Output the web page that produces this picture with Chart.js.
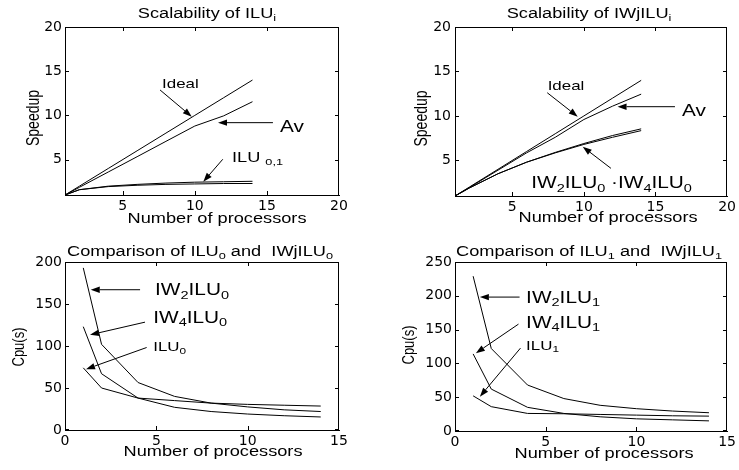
<!DOCTYPE html>
<html><head><meta charset="utf-8">
<script src="https://cdn.jsdelivr.net/npm/chart.js@4/dist/chart.umd.min.js"></script>
<style>
html,body{margin:0;padding:0;background:#fff;}
#wrap{position:relative;width:739px;height:470px;overflow:hidden;background:#fff;}
.cell{position:absolute;}
canvas{display:block;}
.frame{position:absolute;box-sizing:border-box;border-top:1px solid #000;border-right:1px solid #000;pointer-events:none;}
.tick{position:absolute;background:#000;pointer-events:none;}
</style></head><body>
<div id="wrap">
 <div class="cell" id="w1" style="left:0;top:0"><canvas id="c1"></canvas></div>
 <div class="cell" id="w2" style="left:370px;top:0"><canvas id="c2"></canvas></div>
 <div class="cell" id="w3" style="left:0;top:235px"><canvas id="c3"></canvas></div>
 <div class="cell" id="w4" style="left:370px;top:235px"><canvas id="c4"></canvas></div>
</div>
<script>
// ---------------- data ----------------
const procs = [1, 2, 4, 6, 8, 10, 12, 14];

// Scalability of ILUi (speedup)
const idealSpeedup   = [1, 2, 4, 6, 8, 10, 12, 14];
const avSpeedupILU   = [1, 1.87, 3.6, 5.33, 7.07, 8.8, 9.95, 11.55];
const ilu0Speedup    = [1, 1.6, 1.95, 2.1, 2.2, 2.25, 2.3, 2.3];
const ilu1Speedup    = [1, 1.6, 2.0, 2.2, 2.35, 2.45, 2.5, 2.55];

// Scalability of IWjILUi (speedup)
const avSpeedupIW    = [1, 1.95, 3.9, 5.85, 7.6, 9.6, 11.1, 12.45];
const iw2ilu0Speedup = [1, 1.9, 3.5, 4.8, 5.9, 6.9, 7.8, 8.55];
const iw4ilu0Speedup = [1, 1.9, 3.5, 4.8, 5.85, 6.8, 7.6, 8.35];

// Comparison of ILU0 and IWjILU0 (cpu seconds)
const ilu0Cpu    = [74, 50, 38, 35, 32, 30.5, 29.5, 28.5];
const iw4ilu0Cpu = [123, 67, 38, 27, 22, 19, 17, 15.5];
const iw2ilu0Cpu = [193, 102, 56.5, 40, 32, 27.5, 24, 22];

// Comparison of ILU1 and IWjILU1 (cpu seconds)
const ilu1Cpu    = [52, 36, 26, 25.5, 24.5, 23.5, 22.5, 22];
const iw4ilu1Cpu = [114, 62, 35, 26, 21, 18, 16.5, 15];
const iw2ilu1Cpu = [229, 122, 68, 48, 38, 33, 29.5, 27];

// tick labels
const speedXTicks = [5, 10, 15, 20];
const speedYTicks = [5, 10, 15, 20];
const cpuXTicks   = [0, 5, 10, 15];
const cpu0YTicks  = [0, 50, 100, 150, 200];
const cpu1YTicks  = [0, 50, 100, 150, 200, 250];

// ---------------- text helpers ----------------
const STRETCH = 1.3;
const FAMILY = '"Liberation Sans", Arial, Helvetica, sans-serif';
function parseRich(str) {
  const segs = []; let i = 0, buf = '';
  while (i < str.length) {
    if (str[i] === '_' && str[i+1] === '{') {
      if (buf) { segs.push({t: buf}); buf = ''; }
      const j = str.indexOf('}', i);
      segs.push({t: str.slice(i+2, j), sub: true});
      i = j + 1;
    } else { buf += str[i]; i++; }
  }
  if (buf) segs.push({t: buf});
  return segs;
}
function drawRich(ctx, str, x, y, size, align, rot) {
  const segs = parseRich(str);
  ctx.save();
  ctx.translate(x, y);
  ctx.scale(STRETCH, 1);
  if (rot) ctx.rotate(-Math.PI / 2);
  let total = 0;
  const parts = segs.map(s => {
    const sz = s.sub ? size * 0.7 : size;
    ctx.font = sz + 'px ' + FAMILY;
    const w = ctx.measureText(s.t).width;
    total += w;
    return {s, sz, w};
  });
  let cx = align === 'center' ? -total / 2 : 0;
  ctx.fillStyle = '#000';
  ctx.textBaseline = 'alphabetic';
  ctx.textAlign = 'left';
  const base = size * 0.36;
  parts.forEach(p => {
    ctx.font = p.sz + 'px ' + FAMILY;
    ctx.fillText(p.s.t, cx, base + (p.s.sub ? size * 0.2 : 0));
    cx += p.w;
  });
  ctx.restore();
}
function arrow(ctx, x1, y1, x2, y2) {
  ctx.save();
  ctx.strokeStyle = '#000'; ctx.fillStyle = '#000'; ctx.lineWidth = 1;
  const a = Math.atan2(y2 - y1, x2 - x1), L = 9, W = 3.2;
  const bx = x2 - L * Math.cos(a), by = y2 - L * Math.sin(a);
  ctx.beginPath(); ctx.moveTo(x1, y1); ctx.lineTo(bx, by); ctx.stroke();
  ctx.beginPath();
  ctx.moveTo(x2, y2);
  ctx.lineTo(bx + W * Math.sin(a), by - W * Math.cos(a));
  ctx.lineTo(bx - W * Math.sin(a), by + W * Math.cos(a));
  ctx.closePath(); ctx.fill();
  ctx.restore();
}

// ---------------- plugin: titles and annotations ----------------
const figPlugin = {
  id: 'figText',
  afterDraw(chart, args, o) {
    const ctx = chart.ctx, a = chart.chartArea;
    const xs = chart.scales.x, ys = chart.scales.y;
    const cxm = (a.left + a.right) / 2, cym = (a.top + a.bottom) / 2;
    drawRich(ctx, o.title, cxm + o.titleDx, a.top - o.titleDy, 14, 'center');
    drawRich(ctx, o.xTitle, cxm + o.xTitleDx, a.bottom + o.xTitleDy, 14, 'center');
    drawRich(ctx, o.yTitle, a.left - o.yTitleDx, cym + o.yTitleDy, o.yTitleSize, 'center', true);
    o.notes.forEach(n => {
      arrow(ctx, xs.getPixelForValue(n.from[0]), ys.getPixelForValue(n.from[1]),
                 xs.getPixelForValue(n.to[0]), ys.getPixelForValue(n.to[1]));
      drawRich(ctx, n.text, xs.getPixelForValue(n.at[0]), ys.getPixelForValue(n.at[1]), n.size, 'left');
    });
  }
};

// box frame (top/right sides) and inward tick marks, placed from the chart's own area and scales
function addFrame(chart, wrapId) {
  const host = document.getElementById(wrapId);
  const a = chart.chartArea, xs = chart.scales.x, ys = chart.scales.y;
  const L = Math.round(a.left), R = Math.round(a.right), T = Math.round(a.top), B = Math.round(a.bottom);
  const box = document.createElement('div');
  box.className = 'frame';
  Object.assign(box.style, {left: L + 'px', top: T + 'px', width: (R - L) + 'px', height: (B - T) + 'px'});
  host.appendChild(box);
  const tl = 4;
  const mk = (x, y, w, h) => {
    const d = document.createElement('div');
    d.className = 'tick';
    Object.assign(d.style, {left: x + 'px', top: y + 'px', width: w + 'px', height: h + 'px'});
    host.appendChild(d);
  };
  xs.ticks.forEach(t => {
    const px = Math.round(xs.getPixelForValue(t.value));
    const x = Math.min(px, R - 1);
    mk(x, B - tl, 1, tl);
    mk(x, T, 1, tl);
  });
  ys.ticks.forEach(t => {
    const py = Math.round(ys.getPixelForValue(t.value));
    const y = Math.min(py, B - 1);
    mk(L, y, tl, 1);
    mk(R - tl, y, tl, 1);
  });
}

function mkChart(id, wrapId, w, h, pad, cfg) {
  const el = document.getElementById(id);
  el.width = w; el.height = h;
  el.style.width = w + 'px'; el.style.height = h + 'px';
  const tickFont = {family: '"DejaVu Sans", sans-serif', size: 14};
  const chart = new Chart(el, {
    type: 'line',
    data: {
      datasets: cfg.series.map(s => ({
        label: s.label,
        data: procs.map((p, i) => ({x: p, y: s.values[i]})),
        borderColor: '#000', borderWidth: 1, pointRadius: 0, fill: false, tension: 0
      }))
    },
    options: {
      responsive: false, animation: false, devicePixelRatio: 1,
      layout: {padding: {top: pad.top, right: pad.right, left: 0, bottom: 0}},
      plugins: {legend: {display: false}, tooltip: {enabled: false}, title: {display: false}, figText: cfg.text},
      scales: {
        x: {
          type: 'linear', min: cfg.xMin, max: cfg.xMax,
          grid: {display: false, drawTicks: false, tickLength: 0},
          border: {display: true, color: '#000', width: 1},
          afterBuildTicks: s => { s.ticks = cfg.xTicks.map(v => ({value: v})); },
          afterFit: s => { s.height = pad.bottom; },
          ticks: {color: '#000', font: tickFont, padding: 3, maxRotation: 0, autoSkip: false}
        },
        y: {
          type: 'linear', min: cfg.yMin, max: cfg.yMax,
          grid: {display: false, drawTicks: false, tickLength: 0},
          border: {display: true, color: '#000', width: 1},
          afterBuildTicks: s => { s.ticks = cfg.yTicks.map(v => ({value: v})); },
          afterFit: s => { s.width = pad.left; },
          ticks: {color: '#000', font: tickFont, padding: pad.yPad, autoSkip: false}
        }
      }
    },
    plugins: [figPlugin]
  });
  try { addFrame(chart, wrapId); } catch (e) { /* frame is decorative */ }
  return chart;
}

// Top-left
mkChart('c1', 'w1', 370, 235, {top: 27, right: 31, left: 65, bottom: 40, yPad: 3}, {
  xMin: 1, xMax: 20, yMin: 1, yMax: 20, xTicks: speedXTicks, yTicks: speedYTicks,
  series: [
    {label: 'Ideal', values: idealSpeedup},
    {label: 'Av', values: avSpeedupILU},
    {label: 'ILU0', values: ilu0Speedup},
    {label: 'ILU1', values: ilu1Speedup}
  ],
  text: {
    title: 'Scalability of ILU_{i}', titleDx: 5, titleDy: 14,
    xTitle: 'Number of processors', xTitleDx: 15, xTitleDy: 23,
    yTitle: 'Speedup', yTitleDx: 33, yTitleDy: 7, yTitleSize: 14,
    notes: [
      {text: 'Ideal', size: 13, at: [7.73, 13.67], from: [7.59, 12.88], to: [9.79, 9.86]},
      {text: 'Av', size: 16, at: [15.91, 8.72], from: [15.42, 9.18], to: [11.61, 9.18]},
      {text: 'ILU _{0,1}', size: 14, at: [12.58, 5.3], from: [11.94, 5.04], to: [10.59, 2.5]}
    ]
  }
});

// Top-right
mkChart('c2', 'w2', 369, 235, {top: 27, right: 11, left: 85, bottom: 39, yPad: 4}, {
  xMin: 1, xMax: 20, yMin: 1, yMax: 20, xTicks: speedXTicks, yTicks: speedYTicks,
  series: [
    {label: 'Ideal', values: idealSpeedup},
    {label: 'Av', values: avSpeedupIW},
    {label: 'IW2ILU0', values: iw2ilu0Speedup},
    {label: 'IW4ILU0', values: iw4ilu0Speedup}
  ],
  text: {
    title: 'Scalability of IWjILU_{i}', titleDx: -2, titleDy: 14,
    xTitle: 'Number of processors', xTitleDx: 17, xTitleDy: 21,
    yTitle: 'Speedup', yTitleDx: 35, yTitleDy: 7, yTitleSize: 14,
    notes: [
      {text: 'Ideal', size: 13, at: [7.47, 13.48], from: [7.44, 12.61], to: [9.57, 9.92]},
      {text: 'Av', size: 16, at: [16.85, 10.67], from: [16.36, 11.04], to: [12.35, 11.04]},
      {text: 'IW_{2}ILU_{0} ·IW_{4}ILU_{0}', size: 16, at: [6.33, 2.5], from: [11.89, 4.11], to: [9.92, 6.54]}
    ]
  }
});

// Bottom-left
mkChart('c3', 'w3', 370, 235, {top: 27, right: 31, left: 65, bottom: 40, yPad: 3}, {
  xMin: 0, xMax: 15, yMin: 0, yMax: 200, xTicks: cpuXTicks, yTicks: cpu0YTicks,
  series: [
    {label: 'ILU0', values: ilu0Cpu},
    {label: 'IW4ILU0', values: iw4ilu0Cpu},
    {label: 'IW2ILU0', values: iw2ilu0Cpu}
  ],
  text: {
    title: 'Comparison of ILU_{0} and  IWjILU_{0}', titleDx: -2, titleDy: 11,
    xTitle: 'Number of processors', xTitleDx: 11, xTitleDy: 21,
    yTitle: 'Cpu(s)', yTitleDx: 47, yTitleDy: 1, yTitleSize: 13,
    notes: [
      {text: 'IW_{2}ILU_{0}', size: 16, at: [4.93, 167], from: [4.11, 167], to: [1.41, 167]},
      {text: 'IW_{4}ILU_{0}', size: 16, at: [4.83, 133.9], from: [4.38, 128.4], to: [1.37, 113.3]},
      {text: 'ILU_{0}', size: 13, at: [4.83, 99.3], from: [4.47, 98.2], to: [1.15, 72.4]}
    ]
  }
});

// Bottom-right
mkChart('c4', 'w4', 369, 235, {top: 27, right: 10, left: 85, bottom: 39, yPad: 3}, {
  xMin: 0, xMax: 15, yMin: 0, yMax: 250, xTicks: cpuXTicks, yTicks: cpu1YTicks,
  series: [
    {label: 'ILU1', values: ilu1Cpu},
    {label: 'IW4ILU1', values: iw4ilu1Cpu},
    {label: 'IW2ILU1', values: iw2ilu1Cpu}
  ],
  text: {
    title: 'Comparison of ILU_{1} and  IWjILU_{1}', titleDx: -2, titleDy: 11,
    xTitle: 'Number of processors', xTitleDx: 13, xTitleDy: 22,
    yTitle: 'Cpu(s)', yTitleDx: 47, yTitleDy: -1.5, yTitleSize: 13,
    notes: [
      {text: 'IW_{2}ILU_{1}', size: 16, at: [3.92, 198.1], from: [3.56, 198.1], to: [1.37, 198.1]},
      {text: 'IW_{4}ILU_{1}', size: 16, at: [3.92, 161.1], from: [3.5, 158.1], to: [1.15, 115.1]},
      {text: 'ILU_{1}', size: 13, at: [3.92, 127.4], from: [3.61, 122.6], to: [1.37, 50.8]}
    ]
  }
});
</script>
</body></html>
